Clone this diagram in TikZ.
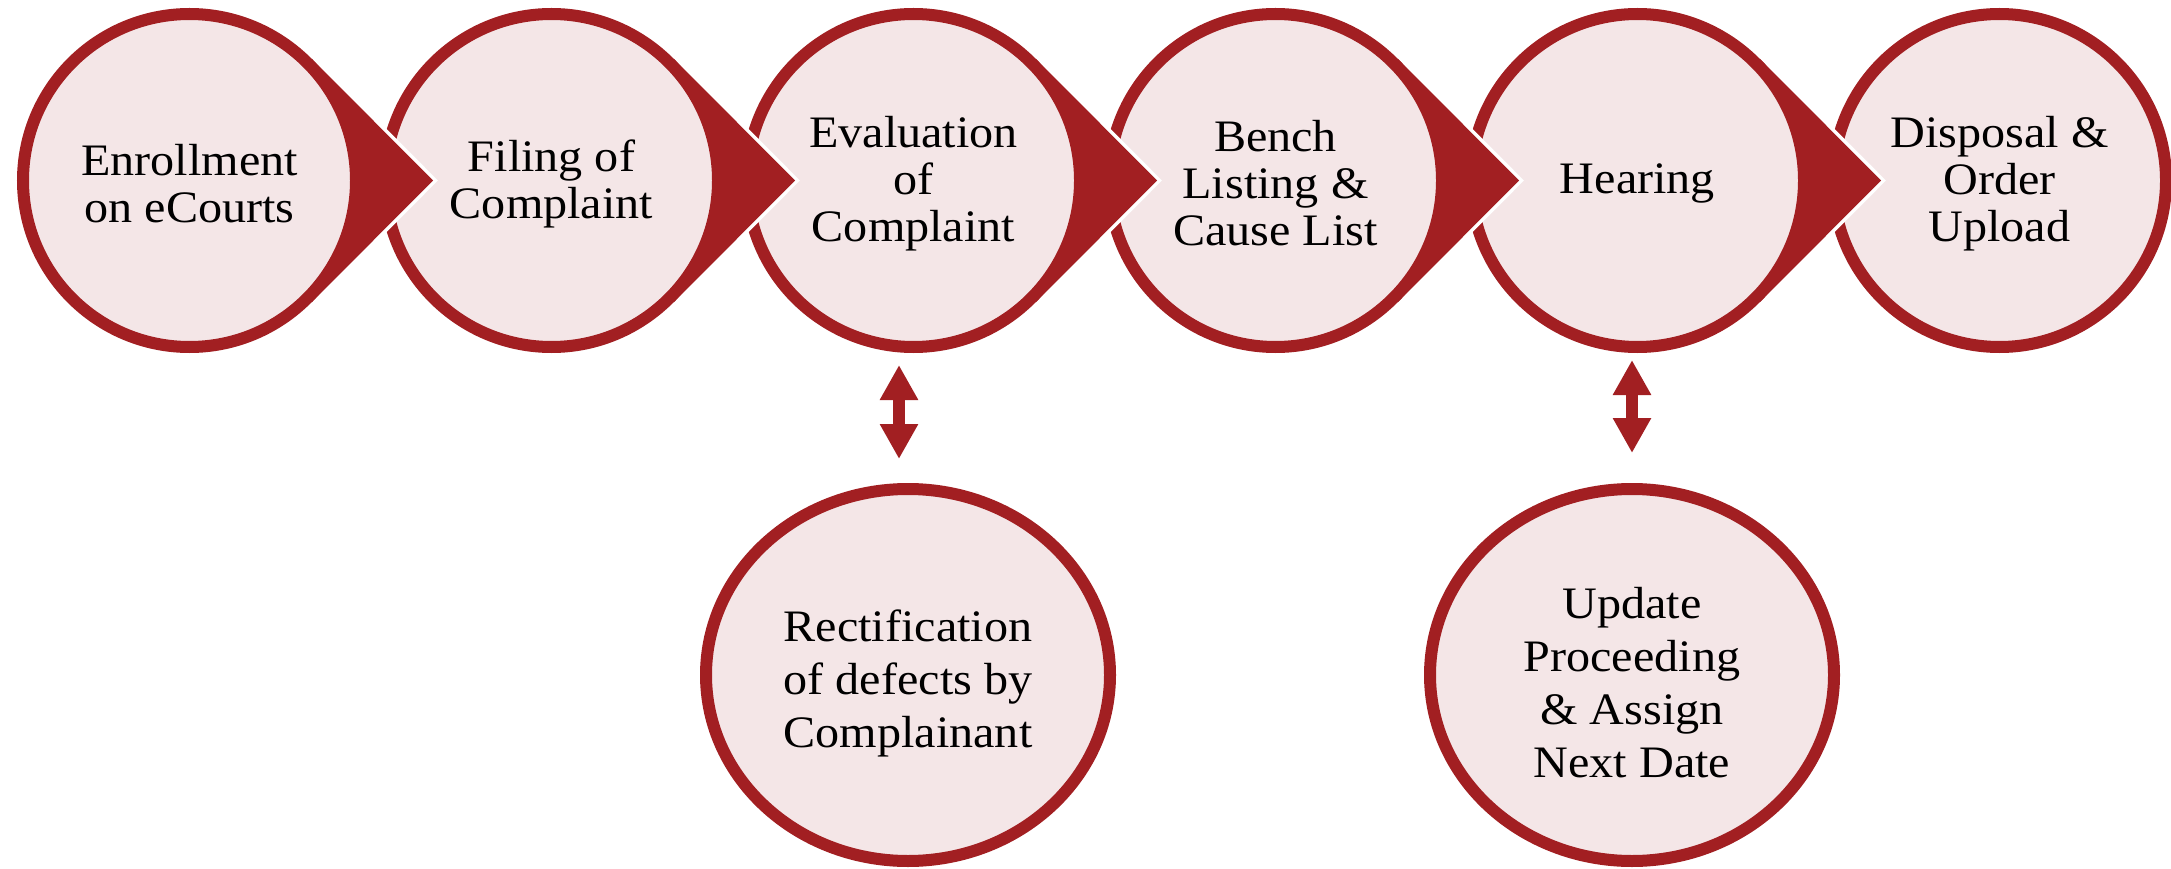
\documentclass[tikz,border=0pt]{standalone}
\usepackage{fontspec}
\setmainfont[FakeStretch=1.07]{Liberation Serif}
\usetikzlibrary{shapes.geometric,arrows.meta}
\definecolor{cred}{HTML}{A21F22}
\definecolor{cpink}{HTML}{F4E6E7}
\begin{document}
\begin{tikzpicture}[x=1pt,y=-1pt,
  stepnode/.style={ellipse, draw=cred, fill=cpink, line width=12pt, inner sep=0pt},
  topnode/.style={stepnode, minimum width=333pt, minimum height=333pt},
  botnode/.style={stepnode, minimum width=404pt, minimum height=372pt},
  toptext/.style={align=center, inner sep=0pt, font=\fontsize{45}{47}\selectfont, yshift=-3pt},
  bottext/.style={align=center, inner sep=0pt, font=\fontsize{45}{53}\selectfont, yshift=-8pt},
  halo/.style={fill=white, draw=white, line width=7pt, line join=miter},
  chev/.style={fill=cred},
  dbl/.style={draw=cred, line width=12pt, {Triangle[width=36pt,length=35pt]}-{Triangle[width=36pt,length=35pt]}},
  pics/wedge/.style={code={
    \fill[halo] (122.2,-121.8) -- (243.5,0) -- (122.2,121.8) -- cycle;
    \fill[chev] (122.2,-121.8) -- (243.5,0) -- (122.2,121.8) -- cycle;
  }}
]
\useasboundingbox (0,0) rectangle (2171,869);
% top row, drawn right to left
\node[topnode] (n6) at (1999.5,180.5) {};
\node[toptext] (t6) at (n6.center) {Disposal \&\\Order\\Upload};
\pic at (1637.5,180.5) {wedge};
\node[topnode] (n5) at (1637.5,180.5) {};
\node[toptext] (t5) at (n5.center) {Hearing};
\pic at (1275.5,180.5) {wedge};
\node[topnode] (n4) at (1275.5,180.5) {};
\node[toptext] (t4) at (n4.center) {Bench\\Listing \&\\Cause List};
\pic at (913.5,180.5) {wedge};
\node[topnode] (n3) at (913.5,180.5) {};
\node[toptext] (t3) at (n3.center) {Evaluation\\of\\Complaint};
\pic at (551.5,180.5) {wedge};
\node[topnode] (n2) at (551.5,180.5) {};
\node[toptext] (t2) at (n2.center) {Filing of\\Complaint};
\pic at (189.5,180.5) {wedge};
\node[topnode] (n1) at (189.5,180.5) {};
\node[toptext] (t1) at (n1.center) {Enrollment\\on eCourts};
% bottom row
\node[botnode] (r1) at (908,675) {};
\node[bottext] (rt) at (r1.center) {Rectification\\of defects by\\Complainant};
\node[botnode] (u1) at (1632,675) {};
\node[bottext] (ut) at (u1.center) {Update\\Proceeding\\\& Assign\\Next Date};
% double arrows
\coordinate (ax1) at (899,0);
\coordinate (ax2) at (1632,0);
\draw[dbl, shorten <=12pt, shorten >=24pt] (n3.south -| ax1) -- (r1.north -| ax1);
\draw[dbl, shorten <=7pt, shorten >=30pt] (n5.south -| ax2) -- (u1.north -| ax2);
\end{tikzpicture}
\end{document}
